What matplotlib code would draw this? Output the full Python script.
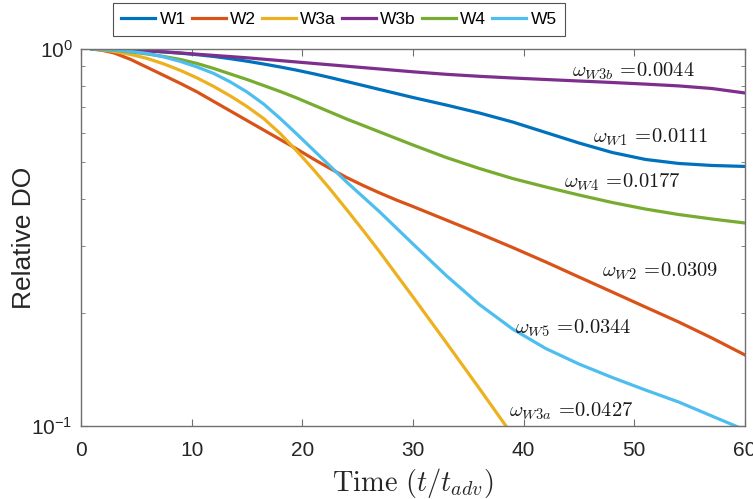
import matplotlib
matplotlib.use('Agg')
import matplotlib.pyplot as plt
from matplotlib.ticker import NullFormatter

plt.rcParams['font.family'] = ['Liberation Sans', 'DejaVu Sans']
plt.rcParams['mathtext.fontset'] = 'cm'

# Zeitpunkte (t/t_adv)
t = [1, 2, 3, 4.5, 6, 7.5, 9, 10.5, 12, 13.5, 15, 16.5, 18, 19.5, 21, 22.5, 24, 25.5, 27, 28.5,
     30, 33, 36, 39, 42, 45, 48, 51, 54, 57, 60]

# relative DO
w1 = [1.0, 0.9988, 0.9969, 0.9927, 0.9879, 0.9818, 0.9747, 0.9658, 0.9553, 0.9425, 0.9282,
      0.9125, 0.8960, 0.8786, 0.8599, 0.8402, 0.8200, 0.8002, 0.7808, 0.7620, 0.7436,
      0.7103, 0.6765, 0.6403, 0.6005, 0.5632, 0.5315, 0.5094, 0.4971, 0.4910, 0.4881]
w2 = [1.0, 0.9909, 0.9759, 0.9379, 0.8932, 0.8506, 0.8100, 0.7691, 0.7257, 0.6848, 0.6461,
      0.6097, 0.5754, 0.5429, 0.5108, 0.4820, 0.4562, 0.4344, 0.4150, 0.3976, 0.3821,
      0.3519, 0.3240, 0.2975, 0.2723, 0.2484, 0.2267, 0.2068, 0.1888, 0.1712, 0.1543]
w3b = [1.0, 0.9988, 0.9969, 0.9939, 0.9891, 0.9830, 0.9759, 0.9687, 0.9617, 0.9547, 0.9477,
       0.9396, 0.9316, 0.9237, 0.9158, 0.9080, 0.9003, 0.8926, 0.8850, 0.8775, 0.8700,
       0.8568, 0.8464, 0.8377, 0.8300, 0.8225, 0.8150, 0.8070, 0.7982, 0.7857, 0.7644]
w4 = [1.0, 0.9976, 0.9921, 0.9818, 0.9699, 0.9552, 0.9379, 0.9152, 0.8877, 0.8584, 0.8300,
      0.8002, 0.7714, 0.7414, 0.7103, 0.6806, 0.6521, 0.6268, 0.6023, 0.5789, 0.5564,
      0.5155, 0.4820, 0.4534, 0.4305, 0.4099, 0.3916, 0.3763, 0.3639, 0.3541, 0.3455]
w5 = [1.0, 0.9976, 0.9939, 0.9848, 0.9729, 0.9523, 0.9265, 0.8959, 0.8610, 0.8175, 0.7691,
      0.7147, 0.6541, 0.5950, 0.5396, 0.4894, 0.4438, 0.4050, 0.3695, 0.3351, 0.3039,
      0.2507, 0.2100, 0.1808, 0.1605, 0.1460, 0.1345, 0.1246, 0.1158, 0.1063, 0.0976]

# W3a faellt schneller ab und verlaesst die Achse bei ca. t = 38.4
t3a = [1, 2, 3, 4.5, 6, 7.5, 9, 10.5, 12, 13.5, 15, 16.5, 18, 19.5, 21, 22.5, 24, 25.5, 27, 28.5,
       30, 33, 36, 38.4, 39]
w3a = [1.0, 0.9939, 0.9848, 0.9670, 0.9436, 0.9125, 0.8769, 0.8377, 0.7953, 0.7505, 0.7038,
       0.6541, 0.5968, 0.5364, 0.4790, 0.4253, 0.3752, 0.3300, 0.2894, 0.2522, 0.2199,
       0.1665, 0.1257, 0.1, 0.0947]

labels = ['W1', 'W2', 'W3a', 'W3b', 'W4', 'W5']
colors = ['#0072BD', '#D95319', '#EDB120', '#7E2F8E', '#77AC30', '#4DBEEE']

# Beschriftungen: (Text, t, y)
notes = [
    (r'$\omega_{W3b}\,=\!0.0044$', 44.4, 0.843),
    (r'$\omega_{W1}\,=\!0.0111$', 46.3, 0.564),
    (r'$\omega_{W4}\,=\!0.0177$', 43.6, 0.429),
    (r'$\omega_{W2}\,=\!0.0309$', 47.1, 0.249),
    (r'$\omega_{W5}\,=\!0.0344$', 39.2, 0.176),
    (r'$\omega_{W3a}\,=\!0.0427$', 38.7, 0.106),
]

fig = plt.figure(figsize=(7.53, 4.99), dpi=100)
ax = fig.add_axes([81/753, 1 - 426/499, 664/753, 377/499])

series = [(t, w1), (t, w2), (t3a, w3a), (t, w3b), (t, w4), (t, w5)]
lines = []
for (x, y), lab, c in zip(series, labels, colors):
    ln, = ax.plot(x, y, color=c, lw=2.3, label=lab)
    lines.append(ln)

ax.set_yscale('log')
ax.set_xlim(0, 60)
ax.set_ylim(0.1, 1)
ax.set_xticks([0, 10, 20, 30, 40, 50, 60])
ax.set_yticks([0.1, 1], labels=[r'$\mathregular{10^{-1}}$', r'$\mathregular{10^{0}}$'])
ax.yaxis.set_minor_formatter(NullFormatter())

gray = '#707070'
for s in ax.spines.values():
    s.set_color(gray)
    s.set_linewidth(1.0)
ax.tick_params(which='both', direction='in', top=True, right=True, colors=gray,
               labelcolor='#262626', labelsize=15)
ax.tick_params(which='major', length=5)
ax.tick_params(which='minor', length=3)
ax.tick_params(axis='x', pad=11)
ax.tick_params(axis='y', pad=6)

ax.set_ylabel('Relative DO', fontsize=19, color='#262626')
ax.yaxis.set_label_coords(-0.068, 0.5)
ax.set_xlabel(r'$\mathrm{Time}\ (t/t_{adv})$', fontsize=20.5, color='#262626')
ax.xaxis.set_label_coords(0.5, -0.105)

for txt, xt, yt in notes:
    ax.text(xt, yt, txt, fontsize=14.8, ha='left', va='baseline', color='#1a1a1a')

leg = fig.legend(lines, labels, loc='center', bbox_to_anchor=(339/753, 1 - 19.5/499),
                 ncol=6, fontsize=12.5, frameon=True, fancybox=False, edgecolor='#262626',
                 handlelength=1.95, handletextpad=0.25, columnspacing=0.35,
                 borderpad=0.5, borderaxespad=0)
leg.get_frame().set_linewidth(0.8)

plt.savefig('out.png', dpi=100)
